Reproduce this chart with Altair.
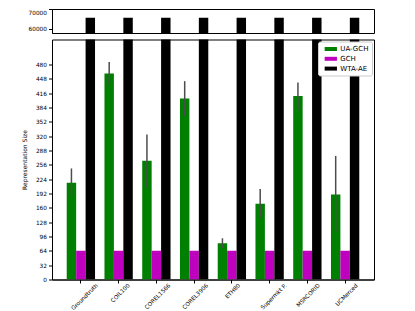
import altair as alt
import pandas as pd

categories = ["Groundtruth", "COIL100", "COREL1566", "COREL3906", "ETH80",
              "Supermkt P.", "MSRCORID", "UCMerced"]
series = ["UA-GCH", "GCH", "WTA-AE"]
colors = ["#008000", "#bf00bf", "#000000"]
ua_gch = [216, 460, 265, 404, 81, 169, 410, 190]
ua_lo = [185, 435, 205, 365, 71, 138, 378, 106]
ua_hi = [248, 486, 324, 443, 92, 202, 440, 276]
gch = [64, 64, 64, 64, 64, 64, 64, 64]
wta = [65536, 65536, 65536, 65536, 65536, 65536, 65536, 65536]
bottom_ticks = list(range(0, 481, 32))
top_ticks = [60000, 70000]

rows = []
for i, c in enumerate(categories):
    rows.append({"cat": c, "series": "UA-GCH", "value": ua_gch[i]})
    rows.append({"cat": c, "series": "GCH", "value": gch[i]})
    rows.append({"cat": c, "series": "WTA-AE", "value": wta[i]})
df = pd.DataFrame(rows)
err = pd.DataFrame({"cat": categories, "series": ["UA-GCH"] * len(categories),
                    "lo": ua_lo, "hi": ua_hi})

W = 322
xscale = alt.Scale(domain=categories, paddingInner=0.25, paddingOuter=0.39)
xoff = alt.XOffset("series:N", scale=alt.Scale(domain=series, paddingInner=0, paddingOuter=0))
yscale = alt.Scale(domain=[0, 536], nice=False)
yaxis = alt.Axis(values=bottom_ticks, title="Representation Size",
                 labelOverlap=False, titlePadding=8)

legend = alt.Legend(title=None, orient="top-right", offset=2, padding=3,
                    strokeColor="#cccccc", fillColor="white", cornerRadius=2,
                    labelFontSize=7, labelFont="DejaVu Sans", labelColor="black",
                    symbolType="M-1.367,-0.444L1.367,-0.444L1.367,0.444L-1.367,0.444Z",
                    symbolSize=81, symbolOffset=5.3,
                    symbolStrokeWidth=0, labelOffset=5, rowPadding=1.8)

top = alt.Chart(df).mark_bar(clip=True).encode(
    x=alt.X("cat:N", scale=xscale, sort=categories, axis=None),
    xOffset=xoff,
    y=alt.Y("value:Q", scale=alt.Scale(domain=[57900, 70000], nice=False, zero=False),
            axis=alt.Axis(values=top_ticks, format="d", title=None, labelFlush=True,
                          labelOverlap=False)),
    color=alt.Color("series:N", scale=alt.Scale(domain=series, range=colors), legend=None),
).properties(width=W, height=24)

bars = alt.Chart(df).mark_bar(clip=True).encode(
    x=alt.X("cat:N", scale=xscale, sort=categories,
            axis=alt.Axis(title=None, labelAngle=-45, labelAlign="right",
                          labelBaseline="middle", labelPadding=1, labelFontSize=5.7,
                          labelOffset=alt.ExprRef("length(datum.label)*1.45"))),
    xOffset=xoff,
    y=alt.Y("value:Q", scale=yscale, axis=yaxis),
    color=alt.Color("series:N", scale=alt.Scale(domain=series, range=colors), legend=legend),
)
errs = alt.Chart(err).mark_bar(size=1.5, color="#4d4d4d").encode(
    x=alt.X("cat:N", scale=xscale, sort=categories),
    xOffset=xoff,
    y=alt.Y("lo:Q", scale=yscale, axis=yaxis),
    y2="hi:Q",
)
bottom = alt.layer(bars, errs).properties(width=W, height=240)

chart = alt.vconcat(top, bottom, spacing=4.5).resolve_legend(color="independent").properties(
    padding={"left": 12, "top": 0, "right": 5, "bottom": 0}
).configure_view(stroke="black", strokeWidth=1).configure_axis(
    domainColor="black", tickColor="black", labelColor="black", tickSize=3.5,
    labelFont="DejaVu Sans", labelFontSize=5.8, titleFont="DejaVu Sans",
    titleFontSize=6, titleFontWeight="normal", titleColor="black", grid=False,
    labelPadding=2,
)

chart.save("out.html", embed_options={"renderer": "svg", "actions": False})
